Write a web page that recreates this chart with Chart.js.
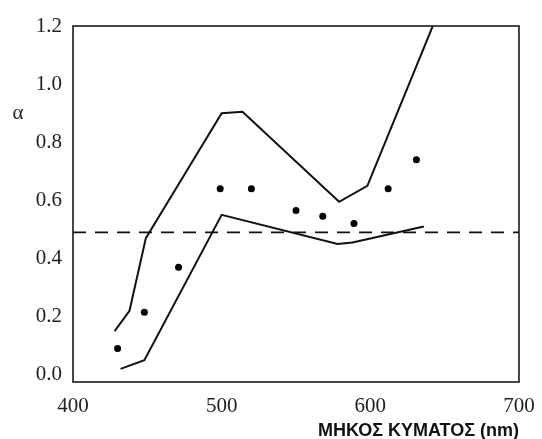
<!DOCTYPE html>
<html>
<head>
<meta charset="utf-8">
<script src="https://cdn.jsdelivr.net/npm/chart.js@4.4.0/dist/chart.umd.min.js"></script>
<style>
    html, body { margin: 0; padding: 0; background: #fff; }
    #box { width: 542px; height: 439px; }
</style>
</head>
<body>
<div id="box"><canvas id="myChart"></canvas></div>
<script>
"use strict"

// upper and lower bound curves, measured points, reference level
const upperX = [428, 438, 449, 500, 514, 579, 598, 642]
const upperY = [0.15, 0.22, 0.47, 0.90, 0.905, 0.595, 0.65, 1.2]

const lowerX = [432, 448, 500, 578, 588, 636]
const lowerY = [0.02, 0.05, 0.55, 0.45, 0.455, 0.51]

const pointsX = [430, 448, 471, 499, 520, 550, 568, 589, 612, 631]
const pointsY = [0.09, 0.215, 0.37, 0.64, 0.64, 0.565, 0.545, 0.52, 0.64, 0.74]

const levelX = [400, 700]
const levelY = [0.49, 0.49]

const xTicks = [400, 500, 600, 700]
const yTicks = [0.0, 0.2, 0.4, 0.6, 0.8, 1.0, 1.2]

const X_TITLE = "ΜΗΚΟΣ ΚΥΜΑΤΟΣ (nm)"
const Y_TITLE = "α"

function toXY(xs, ys) {
    return xs.map((x, i) => ({ x: x, y: ys[i] }))
}

// frame round the plot area and the α label
const framePlugin = {
    id: 'frame',
    afterDatasetsDraw(chart) {
        const { ctx, chartArea: a } = chart
        ctx.save()
        ctx.strokeStyle = '#1a1a1a'
        ctx.lineWidth = 1.6
        ctx.strokeRect(a.left, a.top, a.right - a.left, a.bottom - a.top)

        ctx.fillStyle = '#222'
        ctx.font = '21px "Liberation Serif", "DejaVu Serif", serif'
        ctx.textAlign = 'center'
        ctx.textBaseline = 'middle'
        ctx.fillText(Y_TITLE, 18, chart.scales.y.getPixelForValue(0.9))
        ctx.restore()
    }
}

const serif = { family: '"Liberation Serif", "Times New Roman", serif', size: 21 }

const lineStyle = {
    showLine: true,
    borderColor: '#111',
    borderWidth: 2,
    pointRadius: 0,
    tension: 0,
    fill: false,
}

const ctx = document.getElementById('myChart').getContext('2d')
const chart = new Chart(ctx, {
    type: 'scatter',
    data: {
        datasets: [
            { ...lineStyle, data: toXY(upperX, upperY) },
            { ...lineStyle, data: toXY(lowerX, lowerY) },
            {
                data: toXY(pointsX, pointsY),
                showLine: false,
                pointRadius: 3.5,
                pointBackgroundColor: '#000',
                pointBorderWidth: 0,
            },
            { ...lineStyle, borderWidth: 1.6, borderDash: [13, 9], data: toXY(levelX, levelY) },
        ]
    },
    options: {
        responsive: true,
        maintainAspectRatio: false,
        animation: false,
        layout: { padding: { left: 0, right: 23, top: 26, bottom: 0 } },
        plugins: {
            legend: { display: false },
            tooltip: { enabled: false },
        },
        scales: {
            x: {
                type: 'linear',
                min: 400,
                max: 700,
                grid: { display: false, drawTicks: false },
                border: { display: false },
                afterBuildTicks: scale => { scale.ticks = xTicks.map(v => ({ value: v })) },
                afterFit: scale => {
                    scale.height = 57
                    scale.paddingLeft = 0
                    scale.paddingRight = 0
                },
                ticks: {
                    color: '#222',
                    font: serif,
                    padding: 12,
                    maxRotation: 0,
                    callback: v => String(v),
                },
                title: {
                    display: true,
                    text: X_TITLE,
                    align: 'end',
                    color: '#111',
                    font: { family: '"Liberation Sans", Arial, sans-serif', size: 18, weight: 'bold' },
                    padding: { top: 0, bottom: -3 },
                },
            },
            y: {
                type: 'linear',
                min: -0.025,
                max: 1.2,
                grid: { display: false, drawTicks: false },
                border: { display: false },
                afterBuildTicks: scale => { scale.ticks = yTicks.map(v => ({ value: v })) },
                afterFit: scale => { scale.width = 73 },
                ticks: {
                    color: '#222',
                    font: serif,
                    padding: 11,
                    callback: v => v.toFixed(1),
                },
            },
        },
    },
    plugins: [framePlugin],
})
</script>
</body>
</html>
